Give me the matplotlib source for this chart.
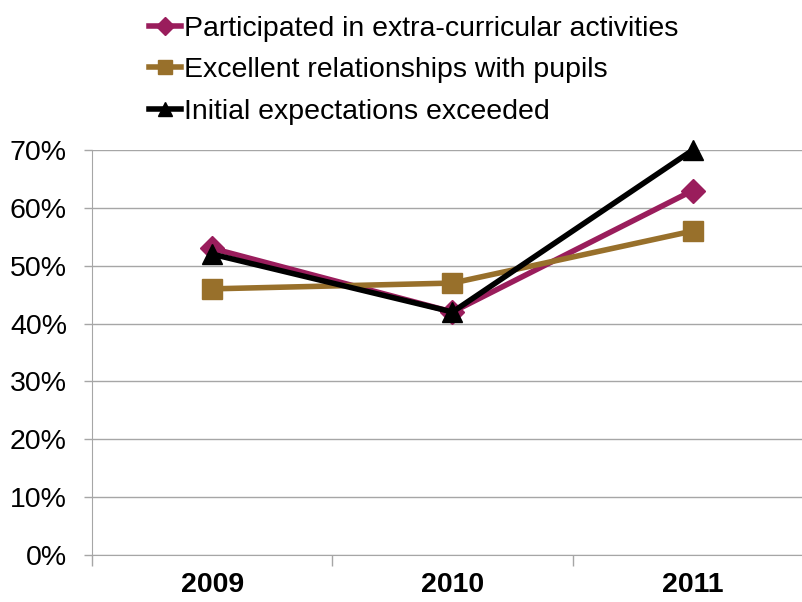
import matplotlib.pyplot as plt
from matplotlib.ticker import FixedLocator, PercentFormatter

plt.rcParams['font.family'] = ['Liberation Sans', 'DejaVu Sans']

# ===== DATOS =====
years = ["2009", "2010", "2011"]
participated = [53, 42, 63]
relationships = [46, 47, 56]
exceeded = [52, 42, 70]
y_ticks = [0, 10, 20, 30, 40, 50, 60, 70]

purple = "#9A1D5C"
gold = "#98702B"
grid_c = "#A6A6A6"
fs = 20.5

fig = plt.figure(figsize=(8.03, 6.02), dpi=100)
ax = fig.add_axes([92 / 803, 1 - 555 / 602, 721 / 803, 405 / 602])

x = list(range(len(years)))
ax.plot(x, participated, color=purple, lw=4, marker="D", ms=12.5,
        label="Participated in extra-curricular activities", zorder=3, clip_on=False)
ax.plot(x, relationships, color=gold, lw=4, marker="s", ms=14,
        label="Excellent relationships with pupils", zorder=3, clip_on=False)
ax.plot(x, exceeded, color="black", lw=4, marker="^", ms=15,
        label="Initial expectations exceeded", zorder=4, clip_on=False)

ax.set_xlim(-0.5, len(years) - 0.5)
ax.set_ylim(0, 70)
ax.yaxis.set_major_locator(FixedLocator(y_ticks))
ax.yaxis.set_major_formatter(PercentFormatter(decimals=0))
ax.set_xticks(x)
ax.set_xticklabels(years, fontweight="bold", fontsize=fs)
ax.xaxis.set_minor_locator(FixedLocator([-0.5, 0.5, 1.5, 2.5]))
ax.tick_params(axis="x", which="major", length=0, pad=12)
ax.tick_params(axis="x", which="minor", length=8, color=grid_c, width=1)
ax.tick_params(axis="y", length=6, color=grid_c, width=1, labelsize=fs, pad=12)
ax.grid(axis="y", color=grid_c, lw=1)
ax.set_axisbelow(True)

for s in ["top", "right"]:
    ax.spines[s].set_visible(False)
ax.spines["left"].set_color(grid_c)
ax.spines["bottom"].set_color(grid_c)

fig.legend(loc="upper left", bbox_to_anchor=(133 / 803, 1.0), frameon=False,
           fontsize=fs, handlelength=1.15, handletextpad=0.1, labelspacing=0.55,
           borderaxespad=0.25, borderpad=0.3, markerscale=0.7)

fig.savefig("out.png", dpi=100)
